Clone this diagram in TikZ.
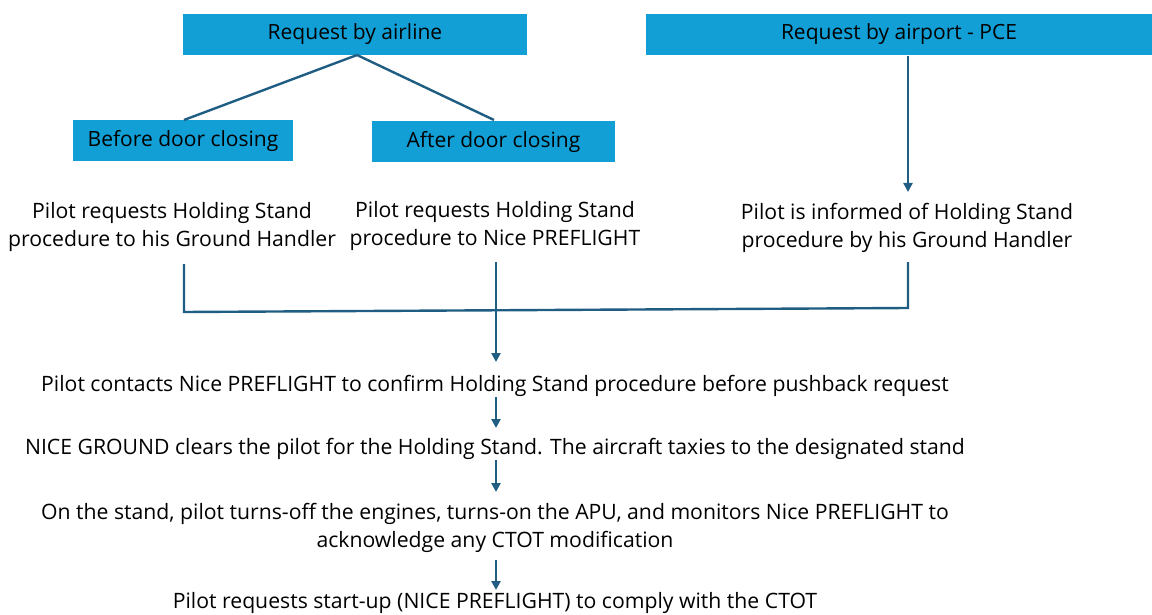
\documentclass[tikz,border=0pt]{standalone}
\usepackage{fontspec}
\setmainfont{Open Sans}
\usetikzlibrary{arrows.meta}
\definecolor{boxblue}{RGB}{17,159,214}
\definecolor{linec}{RGB}{31,94,130}
\tikzset{
  hdr/.style={fill=boxblue, draw=none, inner sep=0pt, font=\fontsize{21}{24}\selectfont},
  txt/.style={align=center, inner sep=0pt, font=\fontsize{21.2}{28.5}\selectfont},
  conn/.style={draw=linec, line width=2.4pt},
  arr/.style={conn, -{Triangle[width=9pt,length=9pt]}}
}
\begin{document}
\begin{tikzpicture}[x=1pt,y=-1pt]
\useasboundingbox (0,0) rectangle (1152,615);
% header boxes
\node[hdr, minimum width=344pt, minimum height=41pt] (air) at (355,34.5) {Request by airline};
\node[hdr, minimum width=506pt, minimum height=41pt] (pce) at (899,34.5) {Request by airport - PCE};
\node[hdr, minimum width=220pt, minimum height=41pt] (bef) at (183,140.5) {Before door closing};
\node[hdr, minimum width=243pt, minimum height=41pt] (aft) at (493.5,141.5) {After door closing};
% texts
\node[txt] (t1) at (172,227) {Pilot requests Holding Stand\\procedure to his Ground Handler};
\node[txt] (t2) at (495,226) {Pilot requests Holding Stand\\procedure to Nice PREFLIGHT};
\node[txt] (t3) at (907,228) {Pilot is informed of Holding Stand\\procedure by his Ground Handler};
\node[txt] (s1) at (495,386) {Pilot contacts Nice PREFLIGHT to confirm Holding Stand procedure before pushback request};
\node[txt] (s2) at (495,449) {NICE GROUND clears the pilot for the Holding Stand. The aircraft taxies to the designated stand};
\node[txt] (s3) at (495,528) {On the stand, pilot turns-off the engines, turns-on the APU, and monitors Nice PREFLIGHT to\\acknowledge any CTOT modification};
\node[txt] (s4) at (495,603) {Pilot requests start-up (NICE PREFLIGHT) to comply with the CTOT};
% coordinates
\coordinate (top) at (357,55);
\coordinate (befT) at (184,120);
\coordinate (aftT) at (494,120);
\coordinate (pceB) at (908,56);
\coordinate (t3T) at (908,192);
\coordinate (l1) at (184,264);
\coordinate (l2) at (184,312);
\coordinate (r1) at (908,262);
\coordinate (r2) at (908,308);
\coordinate (m1) at (496,262);
\coordinate (m2) at (496,362);
\coordinate (a1) at (496,397);
\coordinate (a2) at (496,428);
\coordinate (b1) at (496,460);
\coordinate (b2) at (496,492);
\coordinate (c1) at (496,560);
\coordinate (c2) at (496,590);
% connectors
\draw[conn] (top) -- (befT);
\draw[conn] (top) -- (aftT);
\draw[arr] (pceB) -- (t3T);
\draw[conn] (l1) -- (l2) -- (r2) -- (r1);
\draw[arr] (m1) -- (m2);
\draw[arr] (a1) -- (a2);
\draw[arr] (b1) -- (b2);
\draw[arr] (c1) -- (c2);
\end{tikzpicture}
\end{document}
